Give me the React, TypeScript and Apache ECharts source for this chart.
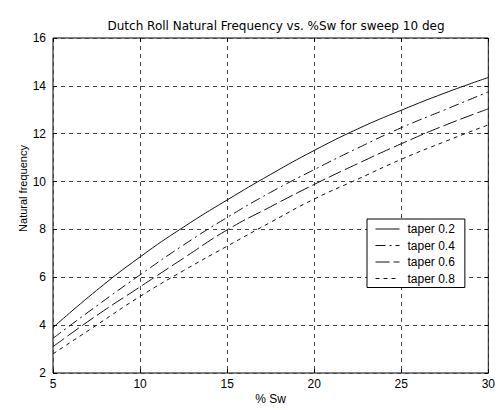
import React, { useEffect, useRef } from "react";
import * as echarts from "echarts";

const sweepPct = [5, 7.5, 10, 12.5, 15, 17.5, 20, 22.5, 25, 27.5, 30];
const taper02 = [3.9, 5.45, 6.85, 8.1, 9.23, 10.3, 11.3, 12.2, 12.98, 13.7, 14.35];
const taper04 = [3.45, 4.8, 6.1, 7.35, 8.5, 9.55, 10.5, 11.4, 12.25, 13.0, 13.75];
const taper06 = [3.1, 4.4, 5.6, 6.8, 7.98, 8.95, 9.88, 10.75, 11.58, 12.35, 13.04];
const taper08 = [2.8, 4.0, 5.2, 6.28, 7.3, 8.3, 9.27, 10.1, 10.93, 11.67, 12.37];
const seriesNames = ["taper 0.2", "taper 0.4", "taper 0.6", "taper 0.8"];
const seriesValues = [taper02, taper04, taper06, taper08];
const dashTypes: any[] = ["solid", [10, 4, 2, 4], [14, 4], [4, 4]];

const FONT = "Liberation Sans, Arial, sans-serif";

export default function App() {
  const ref = useRef<HTMLDivElement>(null);
  useEffect(() => {
    if (!ref.current) return;
    const chart = echarts.init(ref.current, undefined, { renderer: "svg" });
    const gridAxisCommon = {
      axisLine: { show: false },
      axisTick: { show: true, inside: true, length: 4, lineStyle: { color: "#000" } },
    };
    chart.setOption({
      animation: false,
      backgroundColor: "#fff",
      title: {
        text: "Dutch Roll Natural Frequency vs. %Sw for sweep 10 deg",
        left: 271,
        textAlign: "center",
        top: 15,
        textStyle: { fontFamily: "DejaVu Sans, sans-serif", fontSize: 12, fontWeight: "normal", color: "#000" },
      },
      legend: {
        orient: "vertical",
        left: 367,
        top: 219,
        padding: [4, 10, 3, 8],
        itemGap: 4.5,
        itemWidth: 24,
        itemHeight: 12,
        backgroundColor: "#fff",
        borderColor: "#000",
        borderWidth: 1,
        itemStyle: { opacity: 0 },
        lineStyle: { width: 1 },
        textStyle: { fontFamily: FONT, fontSize: 12, color: "#000", padding: [0, 0, 0, 3] },
        data: seriesNames,
      },
      grid: {
        left: 53,
        right: 9,
        top: 38,
        bottom: 28,
        show: true,
        borderColor: "#000",
        borderWidth: 1,
        backgroundColor: "transparent",
      },
      xAxis: [
        {
          type: "value",
          min: 5,
          max: 30,
          interval: 5,
          name: "% Sw",
          nameLocation: "middle",
          nameGap: 20,
          nameMoveOverlap: false,
          nameTextStyle: { fontFamily: FONT, fontSize: 12, color: "#000" },
          ...gridAxisCommon,
          axisLabel: { fontFamily: FONT, fontSize: 12, color: "#000", margin: 5 },
          splitLine: { show: true, lineStyle: { color: "#444", type: [4, 4], width: 1 } },
        },
        {
          type: "value",
          position: "top",
          min: 5,
          max: 30,
          interval: 5,
          ...gridAxisCommon,
          axisLabel: { show: false },
          splitLine: { show: false },
        },
      ],
      yAxis: [
        {
          type: "value",
          min: 2,
          max: 16,
          interval: 2,
          name: "Natural frequency",
          nameLocation: "middle",
          nameGap: 25,
          nameMoveOverlap: false,
          nameTextStyle: { fontFamily: FONT, fontSize: 11, color: "#000", padding: [0, 0, 0, 34] },
          ...gridAxisCommon,
          axisLabel: { fontFamily: FONT, fontSize: 12, color: "#000", margin: 7 },
          splitLine: { show: true, lineStyle: { color: "#444", type: [4, 4], width: 1 } },
        },
        {
          type: "value",
          position: "right",
          min: 2,
          max: 16,
          interval: 2,
          ...gridAxisCommon,
          axisLabel: { show: false },
          splitLine: { show: false },
        },
      ],
      series: seriesNames.map((name, i) => ({
        name,
        type: "line",
        smooth: true,
        symbol: "none",
        data: sweepPct.map((x, j) => [x, seriesValues[i][j]]),
        lineStyle: { color: "#111", width: 1, type: dashTypes[i] },
        itemStyle: { color: "#111" },
      })),
    });
    return () => chart.dispose();
  }, []);
  return (
    <div
      ref={ref}
      style={{ position: "fixed", left: 0, top: 0, width: 498, height: 410 }}
    />
  );
}
